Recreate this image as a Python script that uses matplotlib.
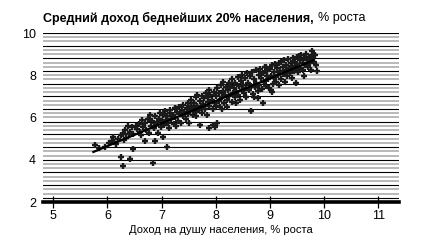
import numpy as np
import matplotlib
matplotlib.use('Agg')
import matplotlib.pyplot as plt

plt.rcParams['font.family'] = ['Liberation Sans Narrow', 'Liberation Sans', 'DejaVu Sans']

# точки (доход на душу, доход беднейших 20%), % роста
pts = [
    (5.77, 4.70), (5.85, 4.55), (5.95, 4.62), (6.02, 4.80), (6.10, 5.07), (6.16, 4.73), (6.08, 4.88),
    (6.20, 5.00), (6.25, 5.15), (6.29, 5.21), (6.39, 5.21), (6.33, 5.41), (6.30, 4.95), (6.42, 5.30),
    (6.45, 5.55), (6.48, 4.50), (6.25, 4.15), (6.41, 4.02), (6.28, 3.71), (6.35, 5.05), (6.47, 5.20),
    (6.12, 4.85), (6.38, 5.60),
    (6.55, 5.45), (6.58, 5.70), (6.60, 5.30), (6.64, 5.89), (6.66, 5.55), (6.69, 4.90), (6.70, 5.75),
    (6.72, 5.40), (6.75, 5.95), (6.79, 6.12), (6.80, 5.60), (6.82, 5.85), (6.84, 3.83), (6.87, 4.91),
    (6.85, 5.50), (6.88, 6.05), (6.90, 5.70), (6.93, 5.26), (6.95, 5.95), (6.97, 6.20), (6.98, 5.55),
    (6.62, 5.15), (6.76, 5.25), (6.91, 5.80), (6.53, 5.62),
    (7.00, 5.85), (7.02, 5.10), (7.03, 6.10), (7.05, 5.65), (7.07, 6.30), (7.08, 5.90), (7.10, 4.60),
    (7.10, 6.05), (7.12, 5.75), (7.15, 6.20), (7.16, 6.36), (7.18, 5.95), (7.20, 6.10), (7.22, 5.70),
    (7.24, 6.45), (7.25, 6.00), (7.28, 6.25), (7.30, 5.85), (7.32, 6.50), (7.33, 6.15), (7.35, 5.73),
    (7.37, 6.35), (7.40, 6.60), (7.40, 6.05), (7.42, 6.25), (7.45, 5.95), (7.46, 6.45), (7.48, 6.70),
    (7.49, 6.15), (7.51, 5.73), (7.14, 5.50), (7.27, 5.60),
    (7.52, 6.35), (7.54, 6.55), (7.55, 6.85), (7.57, 6.10), (7.58, 6.45), (7.60, 6.70), (7.62, 6.25),
    (7.63, 6.95), (7.65, 6.55), (7.66, 7.07), (7.68, 6.35), (7.70, 5.65), (7.70, 6.80), (7.72, 6.50),
    (7.74, 7.00), (7.75, 6.20), (7.77, 6.65), (7.79, 6.90), (7.80, 6.40), (7.82, 7.15), (7.84, 6.12),
    (7.85, 6.75), (7.87, 7.31), (7.88, 5.49), (7.88, 6.55), (7.90, 7.05), (7.92, 6.85), (7.94, 5.64),
    (7.95, 6.40), (7.96, 7.20), (7.98, 6.70), (7.99, 5.55), (8.03, 5.76), (7.64, 6.05), (7.86, 6.95),
    (8.00, 7.00), (8.01, 6.55), (8.03, 7.40), (8.05, 6.80), (8.06, 7.15), (8.08, 6.50), (8.10, 7.55),
    (8.11, 6.95), (8.13, 7.25), (8.14, 7.70), (8.15, 6.70), (8.17, 7.05), (8.18, 7.45), (8.20, 6.85),
    (8.21, 6.52), (8.22, 7.30), (8.24, 7.65), (8.25, 7.00), (8.27, 7.50), (8.29, 6.75), (8.30, 7.80),
    (8.31, 7.15), (8.33, 7.40), (8.35, 6.95), (8.36, 7.65), (8.38, 7.25), (8.40, 7.90), (8.41, 7.05),
    (8.43, 7.50), (8.45, 6.85), (8.46, 7.75), (8.48, 7.30), (8.49, 8.00), (8.12, 6.40), (8.37, 6.70),
    (8.50, 7.55), (8.52, 7.15), (8.53, 7.85), (8.55, 7.40), (8.56, 6.95), (8.58, 8.10), (8.60, 7.65),
    (8.61, 7.30), (8.63, 7.95), (8.65, 6.31), (8.65, 7.50), (8.67, 8.15), (8.68, 7.10), (8.70, 6.99),
    (8.70, 7.80), (8.72, 7.45), (8.74, 8.25), (8.75, 7.65), (8.77, 7.25), (8.79, 8.00), (8.80, 7.55),
    (8.82, 8.30), (8.83, 7.85), (8.85, 7.35), (8.87, 6.69), (8.87, 8.10), (8.88, 7.70), (8.90, 8.40),
    (8.92, 8.41), (8.92, 7.50), (8.94, 7.95), (8.95, 8.20), (8.97, 7.80), (8.98, 7.40), (8.78, 6.90),
    (9.00, 8.30), (9.01, 7.31), (9.02, 7.95), (9.04, 7.23), (9.04, 8.50), (9.05, 7.60), (9.07, 8.15),
    (9.08, 7.85), (9.10, 8.55), (9.11, 7.70), (9.13, 8.35), (9.14, 8.00), (9.16, 7.55), (9.17, 8.60),
    (9.18, 8.20), (9.20, 8.65), (9.21, 7.80), (9.23, 8.40), (9.24, 8.05), (9.26, 8.70), (9.27, 7.70),
    (9.29, 8.25), (9.30, 8.50), (9.32, 7.95), (9.33, 8.75), (9.35, 8.35), (9.36, 8.10), (9.38, 8.60),
    (9.40, 7.85), (9.41, 8.45), (9.43, 8.80), (9.44, 8.20), (9.46, 8.65), (9.48, 7.63), (9.48, 8.40),
    (9.49, 8.85),
    (9.50, 8.55), (9.52, 8.15), (9.53, 8.90), (9.55, 8.70), (9.56, 8.35), (9.58, 8.95), (9.60, 8.60),
    (9.61, 8.25), (9.63, 8.80), (9.65, 8.50), (9.66, 9.00), (9.68, 8.70), (9.70, 8.40), (9.72, 8.85),
    (9.74, 8.60), (9.75, 8.26), (9.77, 9.17), (9.78, 8.75), (9.80, 8.95), (9.83, 8.97), (9.85, 8.49),
    (9.87, 8.22), (9.82, 8.65), (9.62, 7.95),
]
x_vals = [p[0] for p in pts]
y_vals = [p[1] for p in pts]

# линия тренда
fit_x = [5.74, 9.80]
fit_y = [4.37, 8.71]

x_ticks = [5, 6, 7, 8, 9, 10, 11]
y_ticks = [2, 4, 6, 8, 10]

fig = plt.figure(figsize=(4.34, 2.43), dpi=100)
ax = fig.add_axes([43 / 434, 1 - 202 / 243, 356 / 434, 169 / 243])
ax.set_xlim(4.81, 11.38)
ax.set_ylim(2, 10)

# полосатый фон
for i, yy in enumerate(np.arange(10.0, 2.1, -0.2)):
    if i % 3 == 0:
        ax.axhline(yy, color='black', lw=0.8, zorder=1)
    else:
        ax.axhline(yy, color='#a6a6a6', lw=1.1, zorder=1)
ax.axhline(2, color='black', lw=2.6, zorder=3, clip_on=False)

ax.scatter(x_vals, y_vals, marker='+', s=18, linewidths=1.7, color='#1a1a1a', zorder=4)
ax.plot(fit_x, fit_y, color='black', lw=1.6, zorder=5)

for s in ax.spines.values():
    s.set_visible(False)
ax.set_xticks(x_ticks)
ax.set_yticks(y_ticks)
ax.tick_params(axis='x', direction='inout', length=8, width=0.9, labelsize=9, pad=2, color='black')
ax.tick_params(axis='y', length=0, labelsize=9, pad=5)
ax.set_xlabel('Доход на душу населения, % роста', fontsize=8, labelpad=2)

# заголовок: жирная часть + обычная
fig.canvas.draw()
r = fig.canvas.get_renderer()
t1 = fig.text(43 / 434, 1 - 18 / 243, 'Средний доход беднейших 20% населения,',
              fontsize=9, fontweight='bold', va='center', ha='left')
bb = t1.get_window_extent(renderer=r)
fig.text((bb.x1 + 4) / 434, 1 - 18 / 243, '% роста', fontsize=9, va='center', ha='left')

fig.savefig('out.png', dpi=100)
